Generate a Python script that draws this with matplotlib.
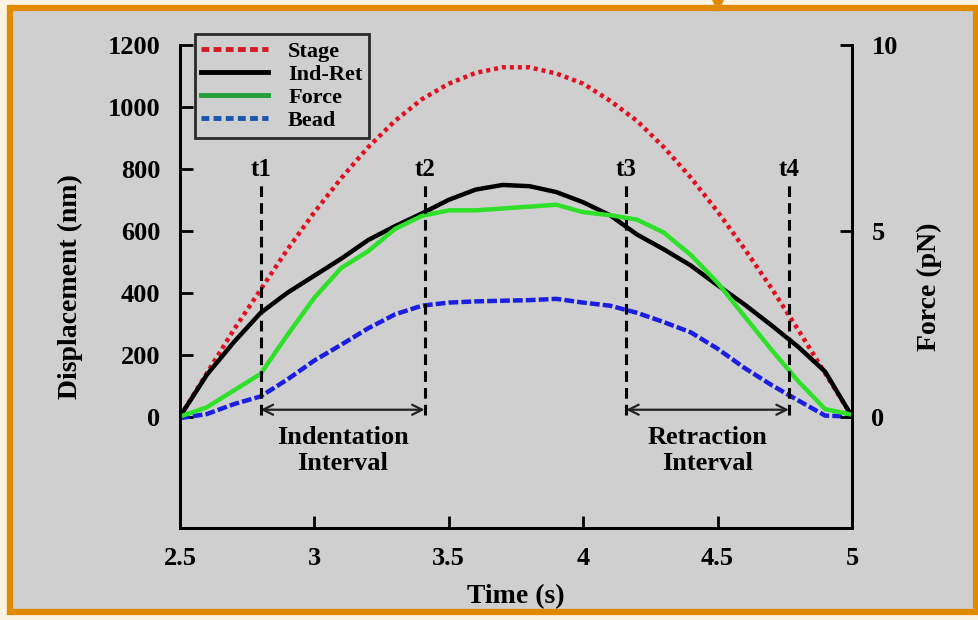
import matplotlib
matplotlib.use("Agg")
import matplotlib.pyplot as plt
from matplotlib.patches import Rectangle, Polygon
from matplotlib.lines import Line2D

plt.rcParams['font.family'] = ['Liberation Serif', 'DejaVu Serif']
plt.rcParams['font.weight'] = 'bold'
plt.rcParams['xtick.direction'] = 'in'
plt.rcParams['ytick.direction'] = 'in'

# time axis (s)
t = [2.5, 2.6, 2.7, 2.8, 2.9, 3.0, 3.1, 3.2, 3.3, 3.4, 3.5, 3.6, 3.7,
     3.8, 3.9, 4.0, 4.1, 4.2, 4.3, 4.4, 4.5, 4.6, 4.7, 4.8, 4.9, 5.0]

# displacements (nm)
stage = [0, 140, 280, 410, 540, 660, 770, 870, 955, 1025, 1075, 1110, 1128,
         1128, 1108, 1075, 1020, 955, 870, 772, 662, 542, 415, 280, 140, 0]
ind_ret = [0, 135, 240, 335, 400, 455, 510, 570, 615, 656, 700, 733, 748,
           744, 725, 692, 650, 588, 540, 488, 424, 362, 295, 225, 145, 0]
bead = [-5, 8, 40, 65, 120, 181, 232, 285, 330, 358, 368, 372, 374,
        376, 380, 368, 358, 335, 305, 272, 219, 157, 102, 52, 3, 0]

# force (pN)
force = [0, 0.25, 0.7, 1.15, 2.2, 3.2, 4.0, 4.45, 5.05, 5.4, 5.55, 5.55, 5.6,
         5.65, 5.7, 5.5, 5.42, 5.3, 4.95, 4.35, 3.6, 2.7, 1.8, 0.95, 0.2, 0.05]

# interval markers
t_marks = [2.8, 3.41, 4.16, 4.765]
t_names = ['t1', 't2', 't3', 't4']
intervals = [('Indentation\nInterval', 2.8, 3.41), ('Retraction\nInterval', 4.16, 4.765)]

fig = plt.figure(figsize=(9.79, 6.20), dpi=100)
fig.patch.set_facecolor('#fdf3e1')
fig.patches.append(Rectangle((10 / 979, 8 / 620), 966 / 979, 604 / 620, transform=fig.transFigure,
                             facecolor='#cfcfcf', edgecolor='#e08a00', linewidth=4.5, zorder=-10))
fig.patches.append(Polygon([(712 / 979, 1.0), (724 / 979, 1.0), (718 / 979, 608 / 620)], closed=True,
                           transform=fig.transFigure, facecolor='#e08a00', edgecolor='none', zorder=-9))

ax = fig.add_axes([180 / 979, 92 / 620, 672 / 979, 483 / 620])
ax.set_facecolor('none')
ax2 = ax.twinx()

ax.plot(t, stage, color='#e01020', linewidth=3.2, linestyle=(0, (0.9, 0.9)))
ax.plot(t, ind_ret, color='black', linewidth=3.2)
ax.plot(t, bead, color='#1a1ee0', linewidth=3.2, linestyle=(0, (2.2, 0.7)))
ax2.plot(t, force, color='#2ee02a', linewidth=3.2)

ax.set_xlim(2.5, 5.0)
ax.set_ylim(-360, 1200)
ax2.set_ylim(-3.0, 10.0)

ax.set_xticks([2.5, 3, 3.5, 4, 4.5, 5])
ax.set_xticklabels(['2.5', '3', '3.5', '4', '4.5', '5'])
ax.set_yticks([0, 200, 400, 600, 800, 1000, 1200])
ax2.set_yticks([0, 5, 10])

for a in (ax, ax2):
    a.spines['top'].set_visible(False)
    for s in ('left', 'right', 'bottom'):
        a.spines[s].set_linewidth(2)
ax.tick_params(axis='both', length=9, width=2, labelsize=19)
ax.tick_params(axis='y', pad=14)
ax.tick_params(axis='x', pad=14)
ax2.tick_params(axis='y', length=9, width=2, labelsize=19, pad=14)

ax.set_xlabel('Time (s)', fontsize=20, fontweight='bold', labelpad=10)
ax.set_ylabel('Displacement (nm)', fontsize=20, fontweight='bold', labelpad=18)
ax2.set_ylabel('Force (pN)', fontsize=20, fontweight='bold', labelpad=14)

# dashed interval lines, labels, arrows
ax2.vlines(t_marks, 5, 752, colors='black', linewidth=2.2, linestyles=(0, (3.5, 2)),
           transform=ax.transData, zorder=5)
for tm, name in zip(t_marks, t_names):
    ax.text(tm, 762, name, ha='center', va='bottom', fontsize=18, fontweight='bold')
for label, a0, a1 in intervals:
    ax2.annotate('', xy=(a0, 22), xytext=(a1, 22), xycoords=ax.transData, textcoords=ax.transData,
                 arrowprops=dict(arrowstyle='<->', color='#222222', lw=1.6, shrinkA=0, shrinkB=0,
                                 mutation_scale=18))
    ax.text((a0 + a1) / 2, -110, label, ha='center', va='center', fontsize=19,
            fontweight='bold', linespacing=1.15)

handles = [Line2D([], [], color='#d41a24', linewidth=3.5, linestyle=(0, (1.6, 0.9))),
           Line2D([], [], color='black', linewidth=3.5),
           Line2D([], [], color='#22a03a', linewidth=3.5),
           Line2D([], [], color='#1a55b0', linewidth=3.5, linestyle=(0, (1.6, 0.9)))]
leg = ax2.legend(handles, ['Stage', 'Ind-Ret', 'Force', 'Bead'], loc='upper left',
                 bbox_to_anchor=(0.022, 1.022), frameon=True, fancybox=False, fontsize=16,
                 handlelength=3.0, handletextpad=0.9, labelspacing=0.12, borderpad=0.3,
                 borderaxespad=0)
leg.get_frame().set_edgecolor('black')
leg.get_frame().set_linewidth(2)
leg.get_frame().set_facecolor('#cfcfcf')

fig.savefig('out.png', dpi=100, facecolor=fig.get_facecolor())
